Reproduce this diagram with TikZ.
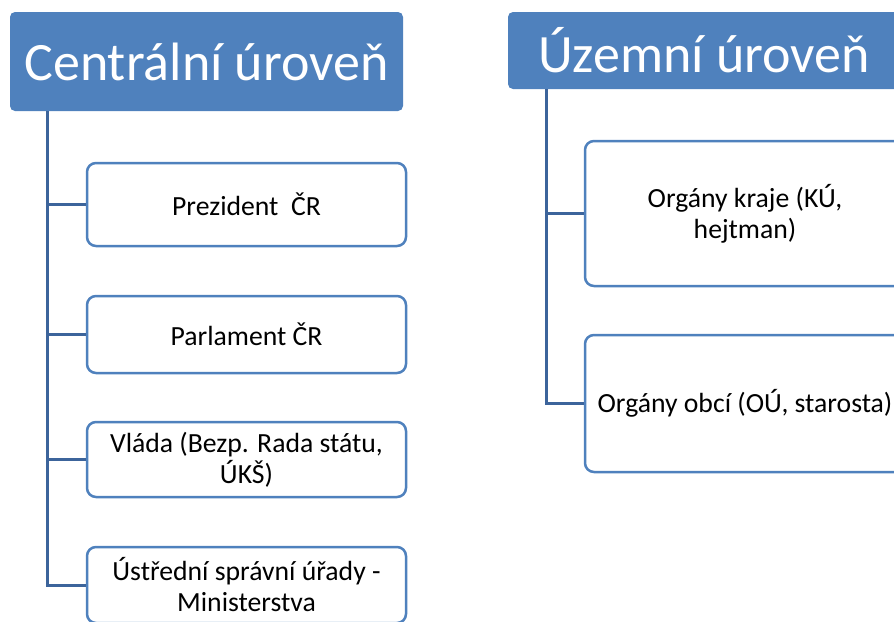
\documentclass[tikz,border=0pt]{standalone}
\usepackage{fontspec}
\setmainfont{Carlito}
\definecolor{hdr}{RGB}{79,129,189}
\definecolor{bord}{RGB}{79,129,189}
\definecolor{conn}{RGB}{60,100,155}
\tikzset{
  header/.style={fill=hdr, draw=none, rounded corners=5pt, text=white, font=\fontsize{54}{62}\selectfont, inner sep=0pt},
  itembox/.style={draw=bord, line width=2.5pt, fill=white, rounded corners=9pt, align=center, font=\fontsize{27.7}{31}\selectfont, inner sep=0pt},
  link/.style={draw=conn, line width=3pt}
}
\begin{document}
\begin{tikzpicture}[x=1pt,y=-1pt]
\useasboundingbox (0,0) rectangle (894,621);
% headers
\node[header, minimum width=393pt, minimum height=99pt] (hl) at (206.5,61.5) {Centrální úroveň};
\node[header, minimum width=392pt, minimum height=77pt] (hr) at (704,50.5) {Územní úroveň};
% left boxes
\node[itembox, minimum width=319pt, minimum height=83pt] (b1) at (246.5,204.5) {Prezident\ \ ČR};
\node[itembox, minimum width=319pt, minimum height=77pt] (b2) at (246.5,334.5) {Parlament ČR};
\node[itembox, minimum width=319pt, minimum height=75pt] (b3) at (246.5,459.5) {Vláda (Bezp. Rada státu,\\ÚKŠ)};
\node[itembox, minimum width=319pt, minimum height=76pt] (b4) at (246.5,585) {Ústřední správní úřady -\\Ministerstva};
% right boxes
\node[itembox, minimum width=320pt, minimum height=145pt] (r1) at (745,213.5) {Orgány kraje (KÚ,\\hejtman)};
\node[itembox, minimum width=320pt, minimum height=137pt] (r2) at (745,403.5) {Orgány obcí (OÚ, starosta)};
% connectors
\coordinate (lt) at (47,111);
\coordinate (rt) at (546,89);
\draw[link] (lt) |- (b1.west);
\draw[link] (lt) |- (b2.west);
\draw[link] (lt) |- (b3.west);
\draw[link] (lt) |- (b4.west);
\draw[link] (rt) |- (r1.west);
\draw[link] (rt) |- (r2.west);
\end{tikzpicture}
\end{document}
